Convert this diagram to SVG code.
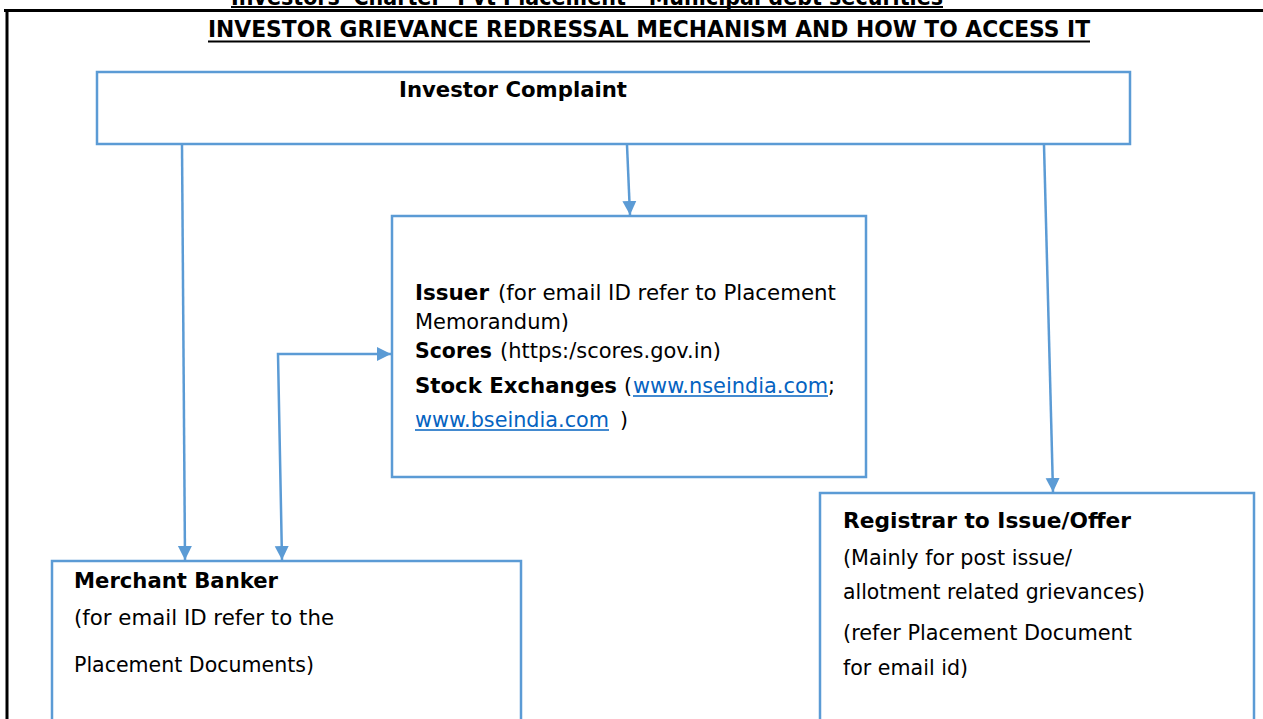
<svg xmlns="http://www.w3.org/2000/svg" width="1263" height="719" viewBox="0 0 1263 719">
<style>
.box{fill:#fff;stroke:#5B9BD5;stroke-width:2.5}
.con{fill:none;stroke:#5B9BD5;stroke-width:2.5}
.t{font-family:"DejaVu Sans","Liberation Sans",sans-serif;font-size:20.5px;fill:#000}
.b{font-weight:bold}
.ttl{font-family:"DejaVu Sans","Liberation Sans",sans-serif;font-weight:bold;font-size:22.5px;fill:#000}
.lk{fill:#0563C1}
.ul{stroke:#000;stroke-width:2}
.lu{stroke:#0563C1;stroke-width:1.3}
</style>
<defs>
<marker id="ah" viewBox="0 0 10 10" refX="10" refY="5" markerWidth="14" markerHeight="15" markerUnits="userSpaceOnUse" orient="auto-start-reverse">
<path d="M0,0 L10,5 L0,10 z" fill="#5B9BD5"/>
</marker>
</defs>
<rect width="1263" height="719" fill="#fff"/>
<g id="frame">
<text class="ttl" x="231" y="5" textLength="712" lengthAdjust="spacingAndGlyphs">Investors' Charter- Pvt Placement - Municipal debt securities</text>
<line class="ul" x1="231" y1="7" x2="943" y2="7"/>
<line x1="4" y1="10.5" x2="1263" y2="10.5" stroke="#000" stroke-width="3"/>
<line x1="7" y1="10" x2="7" y2="719" stroke="#000" stroke-width="3"/>
<text class="ttl" x="208" y="37" textLength="882" lengthAdjust="spacingAndGlyphs">INVESTOR GRIEVANCE REDRESSAL MECHANISM AND HOW TO ACCESS IT</text>
<line class="ul" x1="208" y1="41.5" x2="1090" y2="41.5"/>
</g>
<g id="investor-complaint">
<rect class="box" x="97" y="72" width="1033" height="72"/>
<text class="t b" x="399" y="97" textLength="228" lengthAdjust="spacingAndGlyphs">Investor Complaint</text>
</g>
<g id="issuer">
<rect class="box" x="392" y="216" width="474" height="261"/>
<text class="t b" x="415" y="300" textLength="74" lengthAdjust="spacingAndGlyphs">Issuer</text>
<text class="t" x="498" y="300" textLength="338" lengthAdjust="spacingAndGlyphs">(for email ID refer to Placement</text>
<text class="t" x="415" y="329" textLength="154" lengthAdjust="spacingAndGlyphs">Memorandum)</text>
<text class="t b" x="415" y="358" textLength="77" lengthAdjust="spacingAndGlyphs">Scores</text>
<text class="t" x="500" y="358" textLength="221" lengthAdjust="spacingAndGlyphs">(https:/scores.gov.in)</text>
<text class="t b" x="415" y="393" textLength="202" lengthAdjust="spacingAndGlyphs">Stock Exchanges</text>
<text class="t" x="624" y="393">(</text>
<text class="t lk" x="633" y="393" textLength="195" lengthAdjust="spacingAndGlyphs">www.nseindia.com</text>
<line class="lu" x1="633" y1="396" x2="828" y2="396"/>
<text class="t" x="828" y="393">;</text>
<text class="t lk" x="415" y="427" textLength="194" lengthAdjust="spacingAndGlyphs">www.bseindia.com</text>
<line class="lu" x1="415" y1="430" x2="609" y2="430"/>
<text class="t" x="620" y="427">)</text>
</g>
<g id="merchant-banker">
<rect class="box" x="52" y="561" width="469" height="170"/>
<text class="t b" x="74" y="588" textLength="204" lengthAdjust="spacingAndGlyphs">Merchant Banker</text>
<text class="t" x="74" y="625" textLength="260" lengthAdjust="spacingAndGlyphs">(for email ID refer to the</text>
<text class="t" x="74" y="672" textLength="240" lengthAdjust="spacingAndGlyphs">Placement Documents)</text>
</g>
<g id="registrar">
<rect class="box" x="820" y="493" width="434" height="235"/>
<text class="t b" x="843" y="528" textLength="288" lengthAdjust="spacingAndGlyphs">Registrar to Issue/Offer</text>
<text class="t" x="843" y="565" textLength="229" lengthAdjust="spacingAndGlyphs">(Mainly for post issue/</text>
<text class="t" x="843" y="599" textLength="302" lengthAdjust="spacingAndGlyphs">allotment related grievances)</text>
<text class="t" x="843" y="640" textLength="289" lengthAdjust="spacingAndGlyphs">(refer Placement Document</text>
<text class="t" x="843" y="675" textLength="125" lengthAdjust="spacingAndGlyphs">for email id)</text>
</g>
<g id="connectors">
<path class="con" d="M182,145 L185,560" marker-end="url(#ah)"/>
<path class="con" d="M627,145 L630,215" marker-end="url(#ah)"/>
<path class="con" d="M1044,145 L1053,492" marker-end="url(#ah)"/>
<path class="con" d="M282,560 L278,354 L391,354" marker-start="url(#ah)" marker-end="url(#ah)"/>
</g>
</svg>
